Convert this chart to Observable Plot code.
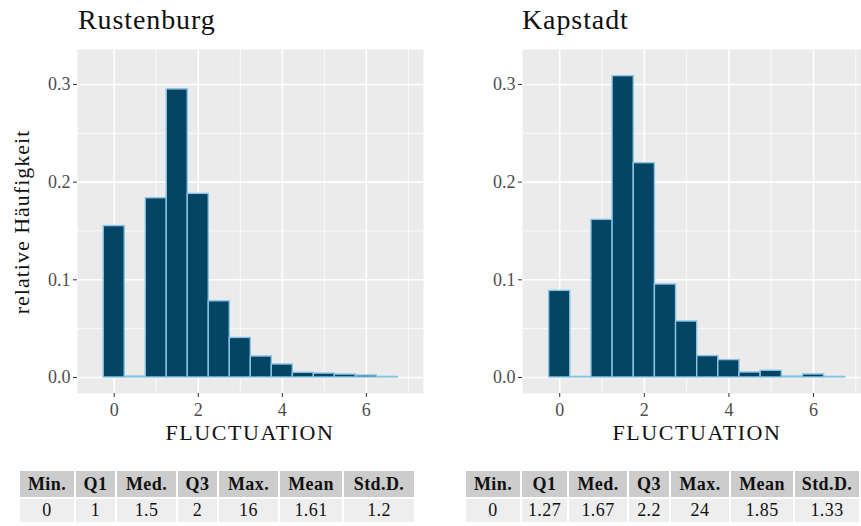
<!DOCTYPE html>
<html>
<head>
<meta charset="utf-8">
<script src="https://cdn.jsdelivr.net/npm/d3@7"></script>
<script src="https://cdn.jsdelivr.net/npm/@observablehq/plot@0.6"></script>
<style>
  html, body { margin: 0; padding: 0; background: #fff; }
  body { width: 861px; height: 526px; position: relative; overflow: hidden; font-family: "Liberation Serif", "DejaVu Serif", serif; }
  svg, svg text { font-family: "Liberation Serif", "DejaVu Serif", serif !important; }
  .abs { position: absolute; }
  .title { font-size: 28px; color: #111; white-space: nowrap; letter-spacing: 0.9px; }
  .xlab { font-size: 22px; color: #111; white-space: nowrap; transform: translateX(-50%); letter-spacing: 1.6px; }
  .ylab { font-size: 22px; color: #111; white-space: nowrap; transform: translate(-50%, -50%) rotate(-90deg); letter-spacing: 1px; }
  table.stats { border-collapse: separate; border-spacing: 2px; position: absolute; font-family: "Liberation Serif", "DejaVu Serif", serif; font-size: 18px; color: #111; table-layout: fixed; }
  table.stats th { background: #CCCCCC; font-weight: bold; height: 26px; padding: 0; text-align: center; letter-spacing: 0.4px; }
  table.stats td { background: #EEEEEE; height: 23px; padding: 0; text-align: center; letter-spacing: 0.4px; }
</style>
</head>
<body>
<script>
// ---- data ----
const binCenters = [0, 0.5, 1, 1.5, 2, 2.5, 3, 3.5, 4, 4.5, 5, 5.5, 6, 6.5];
const rustenburg = [0.155, 0.001, 0.1835, 0.295, 0.188, 0.078, 0.0405, 0.0215, 0.0133, 0.0048, 0.004, 0.003, 0.002, 0.0006];
const kapstadt   = [0.0887, 0.0006, 0.1614, 0.3085, 0.2194, 0.0952, 0.0573, 0.0219, 0.0178, 0.0051, 0.0069, 0.001, 0.0031, 0.0006];
const xTicks = [0, 2, 4, 6];
const xMinor = [1, 3, 5, 7];
const yTicks = [0, 0.1, 0.2, 0.3];
const yMinor = [0.05, 0.15, 0.25];
const statHeaders = ["Min.", "Q1", "Med.", "Q3", "Max.", "Mean", "Std.D."];
const statsRustenburg = ["0", "1", "1.5", "2", "16", "1.61", "1.2"];
const statsKapstadt   = ["0", "1.27", "1.67", "2.2", "24", "1.85", "1.33"];
const binWidth = 0.5;

function histPanel(values, opts) {
  const data = binCenters.map((c, i) => ({x1: c - binWidth / 2, x2: c + binWidth / 2, y: values[i]}));
  return Plot.plot({
    width: opts.width,
    height: 450,
    marginLeft: opts.marginLeft,
    marginRight: opts.marginRight,
    marginTop: 49,
    marginBottom: 57,
    style: {fontFamily: "'Liberation Serif', 'DejaVu Serif', serif", fontSize: "18px", color: "#4D4D4D", background: "transparent", overflow: "visible"},
    x: {domain: opts.xDomain, label: null},
    y: {domain: [-0.0164, 0.3358], label: null},
    marks: [
      Plot.frame({fill: "#EBEBEB", stroke: null}),
      Plot.ruleY(yMinor, {stroke: "#fff", strokeWidth: 0.8}),
      Plot.ruleX(xMinor.filter(v => v >= opts.xDomain[0] && v <= opts.xDomain[1]), {stroke: "#fff", strokeWidth: 0.8}),
      Plot.ruleY(yTicks, {stroke: "#fff", strokeWidth: 1.6}),
      Plot.ruleX(xTicks, {stroke: "#fff", strokeWidth: 1.6}),
      Plot.rect(data, {x1: "x1", x2: "x2", y1: 0, y2: "y", fill: "#044566", stroke: "#8BC3E3", strokeWidth: 1.4}),
      Plot.axisX({ticks: xTicks, tickFormat: d => String(d), tickSize: 4, tickPadding: 6, stroke: "#333", fill: "#4D4D4D", fontSize: 18}),
      Plot.axisY({ticks: yTicks, tickFormat: d3.format(".1f"), tickSize: 4, tickPadding: 3, stroke: "#333", fill: "#4D4D4D", fontSize: 18})
    ]
  });
}

function addAbs(el, left, top) {
  el.classList.add("abs");
  el.style.left = left + "px";
  el.style.top = top + "px";
  document.body.appendChild(el);
  return el;
}
function addText(cls, text, left, top) {
  const d = document.createElement("div");
  d.className = cls;
  d.textContent = text;
  return addAbs(d, left, top);
}
function addTable(headers, values, left, top, widths) {
  const t = document.createElement("table");
  t.className = "stats";
  const cg = document.createElement("colgroup");
  widths.forEach(w => { const c = document.createElement("col"); c.style.width = w + "px"; cg.appendChild(c); });
  t.appendChild(cg);
  const hr = document.createElement("tr");
  headers.forEach(h => { const th = document.createElement("th"); th.textContent = h; hr.appendChild(th); });
  const vr = document.createElement("tr");
  values.forEach(v => { const td = document.createElement("td"); td.textContent = v; vr.appendChild(td); });
  t.appendChild(hr); t.appendChild(vr);
  t.style.left = left + "px";
  t.style.top = top + "px";
  t.style.width = (widths.reduce((a, b) => a + b, 0) + 2 * (widths.length + 1)) + "px";
  document.body.appendChild(t);
}

const p1 = histPanel(rustenburg, {width: 430, marginLeft: 77, marginRight: 7, xDomain: [-0.874, 7.36]});
addAbs(p1, 0, 0);
const p2 = histPanel(kapstadt, {width: 431, marginLeft: 92, marginRight: 0, xDomain: [-0.88, 7.134]});
addAbs(p2, 430, 0);

addText("title", "Rustenburg", 78, 4);
addText("title", "Kapstadt", 522, 4);
addText("xlab", "FLUCTUATION", 250, 420);
addText("xlab", "FLUCTUATION", 697, 420);
addText("ylab", "relative Häufigkeit", 22, 222);

addTable(statHeaders, statsRustenburg, 18, 469, [54, 39, 59, 39, 59, 62, 70]);
addTable(statHeaders, statsKapstadt, 464, 469, [54, 45, 58, 40, 58, 62, 64]);
</script>
</body>
</html>
